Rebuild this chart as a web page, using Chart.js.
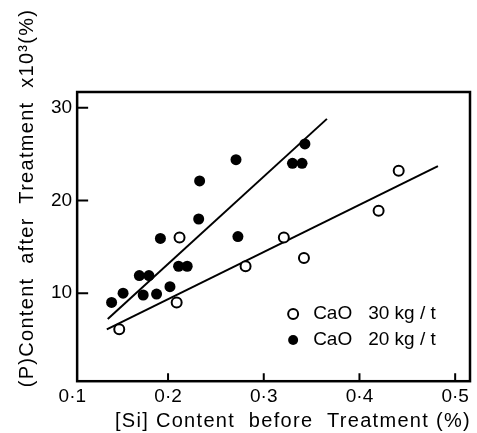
<!DOCTYPE html>
<html>
<head>
<meta charset="utf-8">
<script src="https://cdn.jsdelivr.net/npm/chart.js@4.4.1/dist/chart.umd.min.js"></script>
<style>
html, body { margin: 0; padding: 0; background: #fff; }
</style>
</head>
<body>
<canvas id="chart" width="477" height="433"></canvas>
<script>
// tick values
const xTicks = [0.1, 0.2, 0.3, 0.4, 0.5];
const yTicks = [10, 20, 30];

// CaO 30 kg/t (open circles)
const si30 = [0.149, 0.209, 0.212, 0.281, 0.321, 0.342, 0.420, 0.441];
const p30 = [6.1, 9.0, 16.0, 12.9, 16.0, 13.8, 18.9, 23.2];

// CaO 20 kg/t (filled circles)
const si20 = [0.141, 0.153, 0.170, 0.180, 0.174, 0.188, 0.202, 0.192, 0.211, 0.220, 0.232, 0.233, 0.271, 0.273, 0.330, 0.340, 0.343];
const p20 = [9.0, 10.0, 11.9, 11.9, 9.8, 9.9, 10.7, 15.9, 12.9, 12.9, 18.0, 22.1, 24.4, 16.1, 24.0, 24.0, 26.1];

// fitted lines (end points)
const fit30Si = [0.136, 0.482];
const fit30P = [6.1, 23.7];
const fit20Si = [0.137, 0.366];
const fit20P = [7.2, 28.8];

const legendNames = ['CaO', 'CaO'];
const legendAmounts = ['30 kg / t', '20 kg / t'];

const FONT = "'Liberation Sans', Arial, sans-serif";

function toXY(xs, ys) {
    return xs.map((v, i) => ({ x: v, y: ys[i] }));
}

const decor = {
    id: 'decor',
    afterDatasetsDraw(chart) {
        const { ctx, chartArea: a, scales: { x, y } } = chart;
        ctx.save();
        ctx.strokeStyle = '#000';
        ctx.fillStyle = '#000';

        // frame
        ctx.lineWidth = 2.5;
        ctx.strokeRect(a.left, a.top, a.right - a.left, a.bottom - a.top);

        // inward ticks
        ctx.lineWidth = 2;
        ctx.beginPath();
        xTicks.forEach(v => {
            if (v <= x.min) return;
            const px = x.getPixelForValue(v);
            ctx.moveTo(px, a.bottom);
            ctx.lineTo(px, a.bottom - 8);
        });
        yTicks.forEach(v => {
            const py = y.getPixelForValue(v);
            ctx.moveTo(a.left, py);
            ctx.lineTo(a.left + 11, py);
        });
        ctx.stroke();

        // legend
        ctx.font = '19px ' + FONT;
        ctx.textBaseline = 'middle';
        ctx.textAlign = 'left';
        legendNames.forEach((name, i) => {
            const cy = a.top + 222 + i * 26;
            const cx = a.left + 216;
            ctx.beginPath();
            ctx.arc(cx, cy, 5, 0, Math.PI * 2);
            if (i === 0) {
                ctx.fillStyle = '#fff';
                ctx.fill();
                ctx.lineWidth = 2;
                ctx.stroke();
            } else {
                ctx.fillStyle = '#000';
                ctx.fill();
            }
            ctx.fillStyle = '#000';
            ctx.fillText(name, a.left + 236, cy);
            ctx.fillText(legendAmounts[i], a.left + 291, cy);
        });

        // axis titles
        ctx.font = '20px ' + FONT;
        ctx.textAlign = 'center';
        ctx.textBaseline = 'middle';
        try { ctx.letterSpacing = '1.3px'; } catch (e) {}
        ctx.fillText('[Si] Content  before  Treatment (%)', 293, 421);
        ctx.translate(27, 198);
        ctx.rotate(-Math.PI / 2);
        ctx.fillText('(P)Content  after  Treatment  x10\u00B3(%)', 0, 0);
        ctx.restore();
    }
};

new Chart(document.getElementById('chart'), {
    type: 'scatter',
    data: {
        datasets: [
            {
                label: 'CaO 30 kg/t',
                data: toXY(si30, p30),
                pointRadius: 5,
                pointBackgroundColor: '#fff',
                pointBorderColor: '#000',
                pointBorderWidth: 2,
                order: 1
            },
            {
                label: 'CaO 20 kg/t',
                data: toXY(si20, p20),
                pointRadius: 5.5,
                pointBackgroundColor: '#000',
                pointBorderColor: '#000',
                pointBorderWidth: 0,
                order: 2
            },
            {
                type: 'line',
                label: 'fit 30',
                data: toXY(fit30Si, fit30P),
                borderColor: '#000',
                borderWidth: 2,
                pointRadius: 0,
                fill: false,
                order: 3
            },
            {
                type: 'line',
                label: 'fit 20',
                data: toXY(fit20Si, fit20P),
                borderColor: '#000',
                borderWidth: 2,
                pointRadius: 0,
                fill: false,
                order: 4
            }
        ]
    },
    options: {
        responsive: false,
        animation: false,
        layout: { padding: { top: 92, right: 2, left: 46, bottom: 21 } },
        plugins: {
            legend: { display: false },
            tooltip: { enabled: false }
        },
        scales: {
            x: {
                type: 'linear',
                min: 0.105,
                max: 0.5155,
                afterBuildTicks: axis => { axis.ticks = xTicks.map(v => ({ value: v })); },
                grid: { display: false, drawTicks: false },
                border: { display: false },
                ticks: {
                    color: '#000',
                    padding: 4,
                    maxRotation: 0,
                    font: { family: FONT, size: 19 },
                    callback: v => v.toFixed(1).replace('.', '\u00B7')
                }
            },
            y: {
                min: 0.5,
                max: 31.7,
                afterBuildTicks: axis => { axis.ticks = yTicks.map(v => ({ value: v })); },
                grid: { display: false, drawTicks: false },
                border: { display: false },
                ticks: {
                    color: '#000',
                    padding: 5,
                    font: { family: FONT, size: 19 }
                }
            }
        }
    },
    plugins: [decor]
});
</script>
</body>
</html>
